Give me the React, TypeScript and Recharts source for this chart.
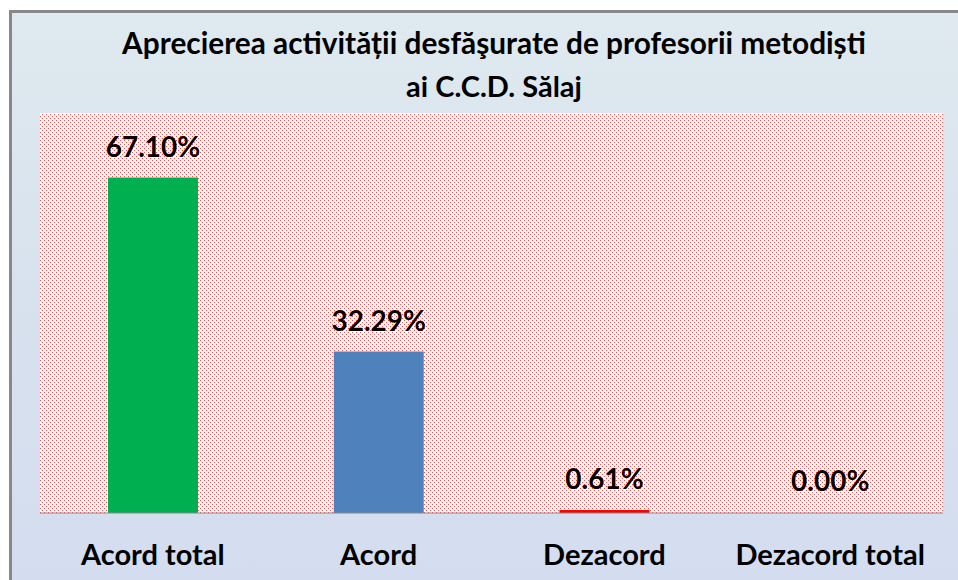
import React from "react";
import { BarChart, Bar, XAxis, YAxis, CartesianGrid, Cell, LabelList } from "recharts";

const categories = ["Acord total", "Acord", "Dezacord", "Dezacord total"];
const values = [67.1, 32.29, 0.61, 0.0];
const colors = ["#00B050", "#4F81BD", "#FF0000", "transparent"];
const titleLines = [
  "Aprecierea activității desfăşurate de profesorii metodiști",
  "ai C.C.D. Sălaj",
];

const data = categories.map((c, i) => ({ name: c, value: values[i] }));

const FONT = "Lato, 'Open Sans', sans-serif";

export default function App() {
  return (
    <div style={{ position: "absolute", left: 0, top: 0, width: 958, height: 580, background: "#ffffff", overflow: "hidden" }}>
      <div
        style={{
          position: "absolute",
          left: 9,
          top: 10,
          width: 970,
          height: 600,
          borderTop: "3px solid #888888",
          borderLeft: "3px solid #888888",
          background: "linear-gradient(to bottom, #dfe9ef 0%, #d6e0ee 60%, #d3ddf0 100%)",
        }}
      />
      <div style={{ position: "absolute", left: 0, top: 0 }}>
        <BarChart
          width={958}
          height={580}
          data={data}
          margin={{ top: 113, right: 15, bottom: 0, left: 40 }}
          barCategoryGap={0}
        >
          <defs>
            <pattern id="dots" x="0" y="0" width="4" height="4" patternUnits="userSpaceOnUse">
              <rect x="0" y="0" width="4" height="4" fill="#ffffff" />
              <rect x="0" y="0" width="1" height="1" fill="#ff4d4d" />
              <rect x="2" y="2" width="1" height="1" fill="#ff4d4d" />
            </pattern>
          </defs>
          <CartesianGrid fill="url(#dots)" horizontal={false} vertical={false} stroke="none" />
          <YAxis hide domain={[0, 80]} type="number" />
          <XAxis
            dataKey="name"
            height={67}
            tickLine={false}
            tickSize={0}
            tickMargin={31}
            axisLine={{ stroke: "#888888", strokeWidth: 1 }}
            tick={{ fontFamily: FONT, fontWeight: 700, fontSize: 29, fill: "#000000" }}
            interval={0}
          />
          <Bar dataKey="value" barSize={90} minPointSize={1} isAnimationActive={false}>
            {data.map((d, i) => (
              <Cell key={d.name} fill={colors[i]} />
            ))}
            <LabelList
              dataKey="value"
              position="top"
              offset={21}
              formatter={(v: number) => `${Number(v).toFixed(2)}%`}
              style={{ fontFamily: FONT, fontWeight: 700, fontSize: 28, fill: "#000000" }}
            />
          </Bar>
        </BarChart>
      </div>
      <svg width={958} height={580} style={{ position: "absolute", left: 0, top: 0, pointerEvents: "none" }}>
        <text x={494} y={54} textAnchor="middle" fontFamily={FONT} fontWeight={700} fontSize={29.8} fill="#000000">
          {titleLines[0]}
        </text>
        <text x={494} y={97} textAnchor="middle" fontFamily={FONT} fontWeight={700} fontSize={29} fill="#000000">
          {titleLines[1]}
        </text>
      </svg>
    </div>
  );
}
